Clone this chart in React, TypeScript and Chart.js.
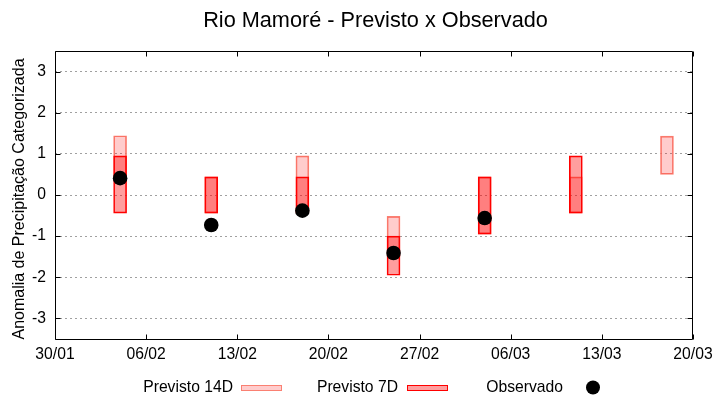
import React, { useEffect, useRef } from "react";
import { Chart, registerables } from "chart.js";
Chart.register(...registerables);

const START = "30/01";
const xTickLabels = ["30/01", "06/02", "13/02", "20/02", "27/02", "06/03", "13/03", "20/03"];
const yTicks = [-3, -2, -1, 0, 1, 2, 3];
const forecastDates = ["04/02", "11/02", "18/02", "25/02", "04/03", "11/03", "18/03"];
const prev14Low = [0.44, -0.44, -0.44, -1.5, -0.95, -0.44, 0.5];
const prev14High = [1.44, 0.44, 0.95, -0.52, 0.44, 0.44, 1.43];
const prev7Low: (number | null)[] = [-0.44, -0.44, -0.44, -1.95, -0.95, -0.44, null];
const prev7High: (number | null)[] = [0.95, 0.44, 0.44, -1.0, 0.44, 0.95, null];
const observedDates = ["04/02", "11/02", "18/02", "25/02", "04/03"];
const observed = [0.41, -0.73, -0.38, -1.41, -0.56];

const TITLE = "Rio Mamoré - Previsto x Observado";
const Y_TITLE = "Anomalia de Precipitação Categorizada";

function dayIndex(s: string): number {
  const [d, m] = s.split("/").map(Number);
  const [d0, m0] = START.split("/").map(Number);
  return (Date.UTC(2023, m - 1, d) - Date.UTC(2023, m0 - 1, d0)) / 86400000;
}

const FONT = "'Liberation Sans', Arial, sans-serif";
const C14_FILL = "rgba(255,0,0,0.2)";
const C14_BORDER = "rgb(250,128,114)";
const C7_FILL = "rgba(255,0,0,0.38)";
const C7_BORDER = "rgb(255,0,0)";

const decor = {
  id: "decor",
  afterDraw(chart: any) {
    const { ctx, chartArea: a, scales } = chart;
    ctx.save();
    ctx.strokeStyle = "#000";
    ctx.lineWidth = 1;
    const L = a.left + 0.5, R = a.right - 0.5, T = a.top + 0.5, B = a.bottom + 0.5;
    ctx.beginPath();
    ctx.rect(L, T, R - L, B - T);
    ctx.stroke();
    const tl = 5;
    ctx.beginPath();
    yTicks.forEach((v) => {
      const y = Math.round(scales.y.getPixelForValue(v)) + 0.5;
      ctx.moveTo(L, y); ctx.lineTo(L + tl, y);
      ctx.moveTo(R, y); ctx.lineTo(R - tl, y);
    });
    xTickLabels.forEach((s) => {
      const x = Math.round(scales.x.getPixelForValue(dayIndex(s))) + 0.5;
      ctx.moveTo(x, B); ctx.lineTo(x, B - tl);
      ctx.moveTo(x, T); ctx.lineTo(x, T + tl);
    });
    ctx.stroke();

    // title
    ctx.fillStyle = "#000";
    ctx.font = `21.7px ${FONT}`;
    ctx.textAlign = "center";
    ctx.textBaseline = "alphabetic";
    ctx.fillText(TITLE, 375.5, 27);

    // y title
    ctx.save();
    ctx.font = `16px ${FONT}`;
    ctx.translate(20, 199);
    ctx.rotate(-Math.PI / 2);
    ctx.textAlign = "center";
    ctx.textBaseline = "middle";
    ctx.fillText(Y_TITLE, 0, 0);
    ctx.restore();

    // legend
    ctx.font = `15.7px ${FONT}`;
    ctx.textAlign = "right";
    ctx.textBaseline = "alphabetic";
    const ds = chart.data.datasets;
    const ly = 391.5;
    ctx.fillText(ds[0].label, 233, ly);
    ctx.fillText(ds[1].label, 398, ly);
    ctx.fillText(ds[2].label, 563, ly);
    ctx.fillStyle = C14_FILL;
    ctx.fillRect(241, 385, 41, 6);
    ctx.strokeStyle = C14_BORDER;
    ctx.strokeRect(241.5, 385.5, 40, 5);
    ctx.fillStyle = C7_FILL;
    ctx.fillRect(407, 385, 41, 6);
    ctx.strokeStyle = C7_BORDER;
    ctx.strokeRect(407.5, 385.5, 40, 5);
    ctx.fillStyle = "#000";
    ctx.beginPath();
    ctx.arc(593, 387.5, 7, 0, Math.PI * 2);
    ctx.fill();
    ctx.restore();
  },
};

export default function App() {
  const ref = useRef<HTMLCanvasElement>(null);
  useEffect(() => {
    if (!ref.current) return;
    const d14 = forecastDates.map((s, i) => ({ x: dayIndex(s), y: [prev14Low[i], prev14High[i]] }));
    const d7 = forecastDates
      .map((s, i) => (prev7Low[i] == null ? null : { x: dayIndex(s), y: [prev7Low[i], prev7High[i]] }))
      .filter(Boolean);
    const dObs = observedDates.map((s, i) => ({ x: dayIndex(s), y: observed[i] }));
    const chart = new Chart(ref.current, {
      type: "bar",
      data: {
        datasets: [
          {
            label: "Previsto 14D",
            data: d14 as any,
            backgroundColor: C14_FILL,
            borderColor: C14_BORDER,
            borderWidth: 1,
            borderSkipped: false,
            barThickness: 13,
            grouped: false,
            order: 2,
          },
          {
            label: "Previsto 7D",
            data: d7 as any,
            backgroundColor: C7_FILL,
            borderColor: C7_BORDER,
            borderWidth: 1,
            borderSkipped: false,
            barThickness: 13,
            grouped: false,
            order: 1,
          },
          {
            type: "scatter" as any,
            label: "Observado",
            data: dObs as any,
            backgroundColor: "#000",
            borderWidth: 0,
            pointRadius: 7.3,
            order: 0,
          } as any,
        ],
      },
      options: {
        animation: false,
        responsive: false,
        devicePixelRatio: 1,
        layout: { padding: { top: 51, right: 27, left: 0, bottom: 0 } },
        plugins: { legend: { display: false }, tooltip: { enabled: false }, title: { display: false } },
        scales: {
          x: {
            type: "linear",
            offset: false,
            min: dayIndex(xTickLabels[0]),
            max: dayIndex(xTickLabels[xTickLabels.length - 1]),
            grid: { display: false, drawTicks: false },
            border: { display: false },
            afterBuildTicks: (s: any) => {
              s.ticks = xTickLabels.map((l) => ({ value: dayIndex(l) }));
            },
            afterFit: (s: any) => {
              s.height = 61;
            },
            ticks: {
              autoSkip: false,
              maxRotation: 0,
              padding: 6,
              color: "#000",
              font: { family: FONT, size: 15.7 },
              callback: (v: any) => xTickLabels.find((l) => dayIndex(l) === v) ?? "",
            },
          },
          y: {
            min: -3.5,
            max: 3.5,
            grid: { color: "#a0a0a0", lineWidth: 1, drawTicks: false },
            border: { display: false, dash: [2, 3] },
            afterBuildTicks: (s: any) => {
              s.ticks = yTicks.map((v) => ({ value: v }));
            },
            afterFit: (s: any) => {
              s.width = 55;
            },
            ticks: {
              padding: 9,
              color: "#000",
              font: { family: FONT, size: 15.7 },
              callback: (v: any) => String(v),
            },
          },
        },
      },
      plugins: [decor],
    });
    return () => chart.destroy();
  }, []);
  return (
    <div style={{ position: "absolute", left: 0, top: 0, width: 720, height: 400, background: "#fff" }}>
      <canvas ref={ref} width={720} height={400} style={{ display: "block" }} />
    </div>
  );
}
